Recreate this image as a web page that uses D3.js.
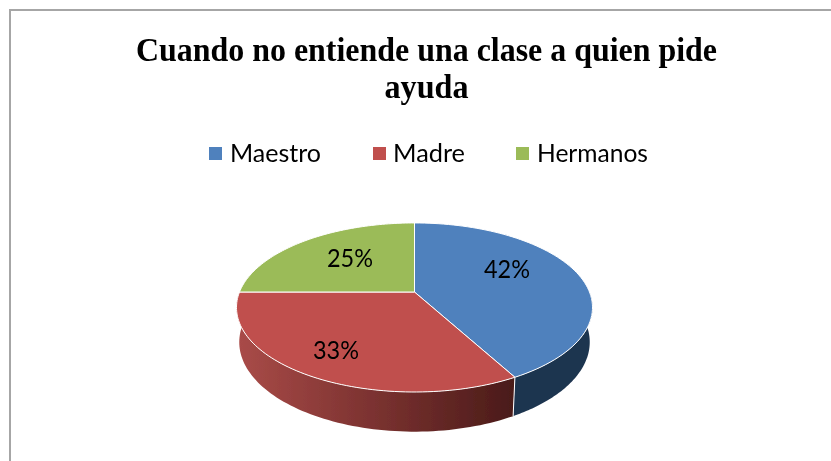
<!DOCTYPE html>
<html><head><meta charset="utf-8">
<script src="https://cdnjs.cloudflare.com/ajax/libs/d3/7.8.5/d3.min.js"></script>
<style>html,body{margin:0;padding:0;background:#fff}svg{display:block}</style>
</head><body><svg id="c" width="831" height="461"></svg>
<script>
const categories = ["Maestro", "Madre", "Hermanos"];
const values = [42, 33, 25];
const labels = ["42%", "33%", "25%"];
const titleLines = ["Cuando no entiende una clase a quien pide", "ayuda"];
const topColors = ["#4f81bd", "#c0504d", "#9bbb59"];

const svg = d3.select("#c");
const cx = 414.5, cy = 292, R = 175, B = 81.7, K = 0.183, DEPTH = 34;

// perspective projection of the unit disc
const proj = (a, r = 1, drop = 0) => {
  const u = r * Math.sin(a), v = r * Math.cos(a), w = 1 + K * v;
  return [cx + R * u / w, cy - B * v / w + drop / w];
};
const arcs = d3.pie().sort(null).value(d => d)(values);
const line = d3.line();
const samples = (a0, a1, n = 80) => d3.range(n + 1).map(i => a0 + (a1 - a0) * i / n);

const defs = svg.append("defs");
const grad = defs.append("linearGradient").attr("id", "redWall")
  .attr("gradientUnits", "userSpaceOnUse")
  .attr("x1", 238).attr("x2", 514).attr("y1", 0).attr("y2", 0);
grad.append("stop").attr("offset", 0).attr("stop-color", "#a94b48");
grad.append("stop").attr("offset", 0.45).attr("stop-color", "#7f3432");
grad.append("stop").attr("offset", 1).attr("stop-color", "#4a1b19");
defs.append("filter").attr("id", "soft").attr("x", "-5%").attr("y", "-5%").attr("width", "110%").attr("height", "110%")
  .append("feGaussianBlur").attr("stdDeviation", 0.45);

// frame
svg.append("line").attr("x1", 10).attr("x2", 10).attr("y1", 9).attr("y2", 461)
  .attr("stroke", "#a6a6a6").attr("stroke-width", 2);
svg.append("line").attr("x1", 9).attr("x2", 831).attr("y1", 10).attr("y2", 10)
  .attr("stroke", "#a6a6a6").attr("stroke-width", 2);

const g = svg.append("g").attr("filter", "url(#soft)");

// title
const titleWidths = [581, 84];
g.selectAll("text.title").data(titleLines).join("text").attr("class", "title")
  .attr("x", 426.5).attr("y", (d, i) => 61 + i * 37)
  .attr("text-anchor", "middle")
  .attr("font-family", "'Liberation Serif'").attr("font-weight", "bold")
  .attr("font-size", 34).attr("fill", "#000")
  .attr("textLength", (d, i) => titleWidths[i]).attr("lengthAdjust", "spacingAndGlyphs")
  .text(d => d);

// legend
const legendX = [209, 373, 516], legendTextX = [230, 393, 537], legendW = [91, 72, 111];
categories.forEach((c, i) => {
  g.append("rect").attr("x", legendX[i]).attr("y", 147).attr("width", 13).attr("height", 13)
    .attr("fill", topColors[i]);
  g.append("text").attr("x", legendTextX[i]).attr("y", 162)
    .attr("font-family", "'Lato'").attr("font-size", 24.5).attr("fill", "#000")
    .attr("textLength", legendW[i]).attr("lengthAdjust", "spacingAndGlyphs")
    .text(c);
});

// side walls
const BOTTOM_R = 0.985;
const wall = (a0, a1) => line([
  ...samples(a0, a1).map(a => proj(a)),
  ...samples(a1, a0).map(a => proj(a, BOTTOM_R, DEPTH))
]) + "Z";
const quarter = Math.PI / 2;
g.append("path").attr("d", wall(quarter, arcs[0].endAngle)).attr("fill", "#1f3550");
g.append("path").attr("d", wall(arcs[1].startAngle, Math.min(arcs[1].endAngle, 3 * quarter)))
  .attr("fill", "url(#redWall)");
const edgeTop = proj(arcs[0].endAngle), edgeBottom = proj(arcs[0].endAngle, BOTTOM_R, DEPTH);
g.append("line").attr("x1", edgeTop[0]).attr("x2", edgeBottom[0]).attr("y1", edgeTop[1]).attr("y2", edgeBottom[1])
  .attr("stroke", "#fff").attr("stroke-width", 1);

// top faces
g.selectAll("path.top").data(arcs).join("path").attr("class", "top")
  .attr("d", d => line([proj(0, 0), ...samples(d.startAngle, d.endAngle).map(a => proj(a))]) + "Z")
  .attr("fill", (d, i) => topColors[i])
  .attr("stroke", "#fff").attr("stroke-width", 1).attr("stroke-linejoin", "round");

// data labels
const labelPos = [[507, 278], [336, 359], [350, 267]];
g.selectAll("text.lab").data(labels).join("text").attr("class", "lab")
  .attr("x", (d, i) => labelPos[i][0]).attr("y", (d, i) => labelPos[i][1])
  .attr("text-anchor", "middle")
  .attr("font-family", "'Lato'").attr("font-size", 24.5).attr("fill", "#000")
  .attr("textLength", 46).attr("lengthAdjust", "spacingAndGlyphs")
  .text(d => d);
</script></body></html>
